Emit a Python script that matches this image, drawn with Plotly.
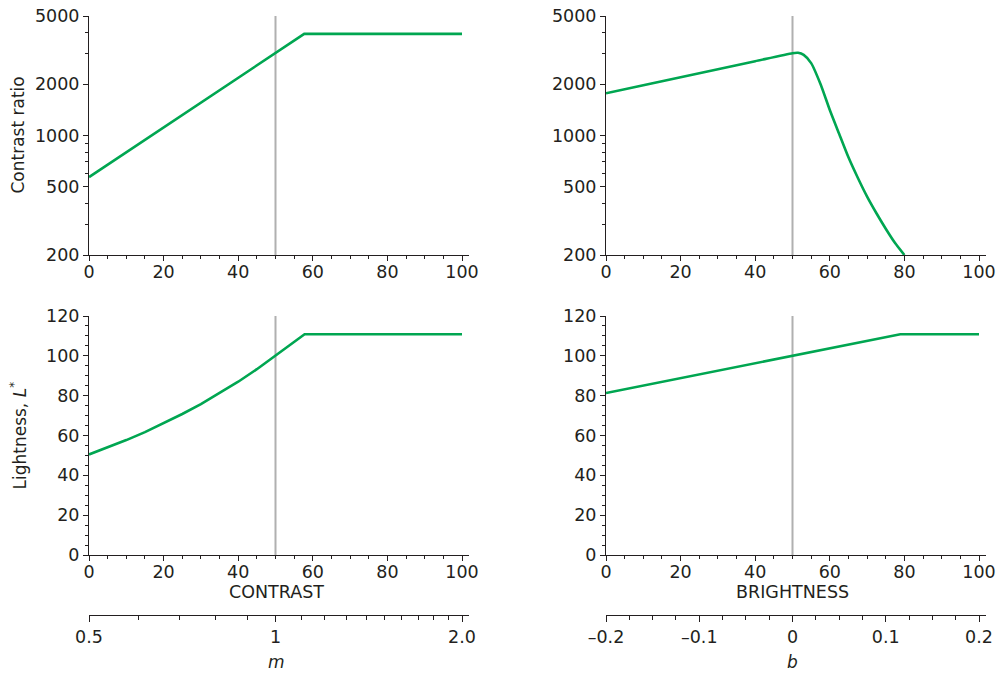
import plotly.graph_objects as go
import math

# ---------------- data ----------------
contrast_x = [0, 10, 20, 30, 40, 50, 57.7, 70, 80, 90, 100]
contrast_cr = [571, 798, 1114, 1557, 2175, 3040, 3930, 3930, 3930, 3930, 3930]

bright_x = [0, 10, 20, 30, 40, 50, 51.5, 53, 55, 57.5, 60, 62.5, 65, 67.5, 70, 72.5, 75, 77.5, 80]
bright_cr = [1766, 1967, 2191, 2441, 2719, 3030, 3045, 2960, 2650, 2000, 1410, 1023, 745, 566, 439, 351, 285, 235, 200]

contrast_lx = [0, 5, 10, 15, 20, 25, 30, 35, 40, 45, 50, 55, 57.8, 70, 80, 90, 100]
contrast_L = [50.5, 54.0, 57.7, 61.7, 66.1, 70.8, 75.8, 81.2, 87.0, 93.3, 100, 106.8, 110.8, 110.8, 110.8, 110.8, 110.8]

bright_lx = [0, 25, 50, 78.9, 100]
bright_L = [81.3, 90.7, 100, 110.8, 110.8]

ref_setting = 50

x_ticks = [0, 20, 40, 60, 80, 100]
cr_ticks = [200, 500, 1000, 2000, 5000]
cr_minor = [300, 400, 600, 700, 800, 900, 3000, 4000]
L_ticks = [0, 20, 40, 60, 80, 100, 120]

m_ticks = [0.5, 1, 2]
m_ticktext = ["0.5", "1", "2.0"]
m_minor = [0.6, 0.7, 0.8, 0.9, 1.1, 1.2, 1.3, 1.4, 1.5, 1.6, 1.7, 1.8, 1.9]
b_ticks = [-0.2, -0.1, 0, 0.1, 0.2]
b_ticktext = ["\u20130.2", "\u20130.1", "0", "0.1", "0.2"]

# ---------------- styling ----------------
GREEN = "#00a651"
GRAY = "#b0b0b0"
INK = "#231f20"
FONT = "DejaVu Sans"
W, H = 997, 675

def px_x(p):
    return p / W

def px_y(p):
    return 1 - p / H

x_extent = 102  # axis line runs a little past 100
dom_left = [px_x(89), px_x(89 + 3.73 * x_extent)]
dom_right = [px_x(606), px_x(606 + 3.73 * x_extent)]
dom_top = [px_y(255), px_y(16)]
dom_bot = [px_y(555), px_y(316)]

fig = go.Figure()

line_style = dict(color=GREEN, width=2.6)
fig.add_trace(go.Scatter(x=contrast_x, y=contrast_cr, mode="lines", line=line_style,
                         xaxis="x", yaxis="y", showlegend=False, hoverinfo="skip"))
fig.add_trace(go.Scatter(x=bright_x, y=bright_cr, mode="lines", line=dict(color=GREEN, width=2.6, shape="spline", smoothing=0.6),
                         xaxis="x2", yaxis="y2", showlegend=False, hoverinfo="skip"))
fig.add_trace(go.Scatter(x=contrast_lx, y=contrast_L, mode="lines", line=line_style,
                         xaxis="x3", yaxis="y3", showlegend=False, hoverinfo="skip"))
fig.add_trace(go.Scatter(x=bright_lx, y=bright_L, mode="lines", line=line_style,
                         xaxis="x4", yaxis="y4", showlegend=False, hoverinfo="skip"))
# invisible carriers for the m and b axes
fig.add_trace(go.Scatter(x=m_ticks, y=[None] * len(m_ticks), mode="lines", line=dict(width=0),
                         xaxis="x5", yaxis="y3", showlegend=False, hoverinfo="skip"))
fig.add_trace(go.Scatter(x=b_ticks, y=[None] * len(b_ticks), mode="lines", line=dict(width=0),
                         xaxis="x6", yaxis="y4", showlegend=False, hoverinfo="skip"))

tickfont = dict(family=FONT, size=17.5, color=INK)
common = dict(showline=True, linecolor=INK, linewidth=1, showgrid=False, zeroline=False, automargin=False,
              ticks="outside", ticklen=5, tickwidth=1, tickcolor=INK, tickfont=tickfont)

def xmain(domain, anchor):
    return dict(common, domain=domain, anchor=anchor, range=[0, x_extent],
                tickmode="array", tickvals=x_ticks, ticklabelstandoff=-4,
                minor=dict(ticks="outside", ticklen=3, tickwidth=1, tickcolor=INK, dtick=5, tick0=0))

def ylog(domain, anchor):
    return dict(common, domain=domain, anchor=anchor, type="log",
                range=[math.log10(cr_ticks[0]), math.log10(cr_ticks[-1])],
                tickmode="array", tickvals=cr_ticks, ticktext=[str(v) for v in cr_ticks],
                minor=dict(ticks="outside", ticklen=3, tickwidth=1, tickcolor=INK,
                           tickmode="array", tickvals=cr_minor))

def ylin(domain, anchor):
    return dict(common, domain=domain, anchor=anchor, range=[0, 120],
                tickmode="array", tickvals=L_ticks,
                minor=dict(ticks="outside", ticklen=3, tickwidth=1, tickcolor=INK, dtick=5, tick0=0))

m_lo = math.log10(m_ticks[0])
m_hi = m_lo + (x_extent / 100) * (math.log10(m_ticks[-1]) - math.log10(m_ticks[0]))
b_lo = b_ticks[0]
b_hi = b_lo + (x_extent / 100) * (b_ticks[-1] - b_ticks[0])
extra_pos = px_y(615)

fig.update_layout(
    width=W, height=H, autosize=False,
    margin=dict(l=0, r=0, t=0, b=0, pad=0, autoexpand=False),
    paper_bgcolor="white", plot_bgcolor="rgba(0,0,0,0)",
    font=dict(family=FONT, size=17, color=INK),
    xaxis=xmain(dom_left, "y"),
    yaxis=ylog(dom_top, "x"),
    xaxis2=xmain(dom_right, "y2"),
    yaxis2=ylog(dom_top, "x2"),
    xaxis3=xmain(dom_left, "y3"),
    yaxis3=ylin(dom_bot, "x3"),
    xaxis4=xmain(dom_right, "y4"),
    yaxis4=ylin(dom_bot, "x4"),
    xaxis5=dict(common, overlaying="x3", anchor="free", position=extra_pos, side="bottom",
                type="log", range=[m_lo, m_hi], tickmode="array", tickvals=m_ticks, ticktext=m_ticktext,
                ticklen=6,
                minor=dict(ticks="outside", ticklen=4, tickwidth=1, tickcolor=INK,
                           tickmode="array", tickvals=m_minor)),
    xaxis6=dict(common, overlaying="x4", anchor="free", position=extra_pos, side="bottom",
                range=[b_lo, b_hi], tickmode="array", tickvals=b_ticks, ticktext=b_ticktext,
                ticklen=6,
                minor=dict(ticks="outside", ticklen=4, tickwidth=1, tickcolor=INK, dtick=0.025, tick0=-0.2)),
)

# reference (default setting) lines
for xr, yr in [("x", "y"), ("x2", "y2"), ("x3", "y3"), ("x4", "y4")]:
    fig.add_shape(type="line", xref=xr, yref=yr + " domain", x0=ref_setting, x1=ref_setting, y0=0, y1=1,
                  line=dict(color=GRAY, width=2), layer="below")

title_font = dict(family=FONT, size=17, color=INK)
cap_font = dict(family=FONT, size=17.5, color=INK)
ann = [
    dict(text="Contrast ratio", x=px_x(18), y=sum(dom_top) / 2, textangle=-90),
    dict(text="Lightness, <i>L</i><sup>*</sup>", x=px_x(18), y=sum(dom_bot) / 2, textangle=-90),
    dict(text="CONTRAST", x=px_x(276), y=px_y(592), font=cap_font),
    dict(text="BRIGHTNESS", x=px_x(792.5), y=px_y(592), font=cap_font),
    dict(text="<i>m</i>", x=px_x(276), y=px_y(662)),
    dict(text="<i>b</i>", x=px_x(792.5), y=px_y(662)),
]
for a in ann:
    a.setdefault("font", title_font)
    fig.add_annotation(xref="paper", yref="paper", showarrow=False, xanchor="center", yanchor="middle", **a)

fig.write_html("out.html", config={"displayModeBar": False},
               post_script="document.body.style.margin='0';document.body.style.overflow='hidden';")
